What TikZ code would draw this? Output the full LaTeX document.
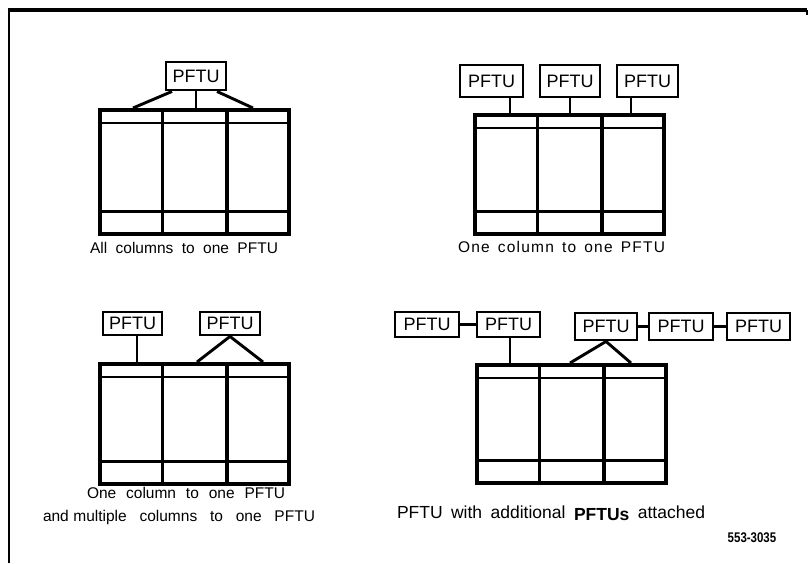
\documentclass[tikz,border=0pt]{standalone}
\usepackage{fontspec}
\usepackage{graphicx}
\setmainfont{Liberation Sans}
\usetikzlibrary{calc}
\tikzset{
  pftu/.style={draw, line width=2.9pt, inner sep=0pt, minimum height=25pt, minimum width=62pt, font=\fontsize{18}{18}\selectfont},
  cabbox/.style={draw, line width=3.6pt, minimum width=189pt, inner sep=0pt},
  cabline/.style={line width=2.8pt},
  divline/.style={line width=3.3pt},
  link/.style={line width=2.9pt},
  frame/.style={line width=2.8pt},
  caption/.style={inner sep=0pt, font=\fontsize{15.5}{15.5}\selectfont},
}
\newcommand\cabinet[4]{%
  \node[cabbox, minimum height=#4pt, anchor=north west] (#1) at (#2,#3) {};
  \draw[cabline] ([yshift=-15pt]#1.north west) -- ([yshift=-15pt]#1.north east);
  \draw[cabline] ([yshift=24pt]#1.south west) -- ([yshift=24pt]#1.south east);
  \draw[divline] ($(#1.north west)!0.335!(#1.north east)$) -- ($(#1.south west)!0.335!(#1.south east)$);
  \draw[divline] ($(#1.north west)!0.67!(#1.north east)$) -- ($(#1.south west)!0.67!(#1.south east)$);
}
\begin{document}
\begin{tikzpicture}[x=1pt,y=-1pt]
\useasboundingbox (0,0) rectangle (809,563);
% frame
\draw[frame] (9,563) -- (9,10);
\draw[line width=4pt] (7.6,10) -- (807,10);
\draw[line width=1.4pt] (807,10) -- (807,15);

% ---------- panel 1 ----------
\node[pftu, minimum width=60pt, minimum height=28pt] (p1) at (196,76) {PFTU};
\cabinet{c1}{98}{108}{124}
\coordinate (c1l) at (133,108);
\coordinate (c1m) at (196,108);
\coordinate (c1r) at (253,108);
\draw[link] ([xshift=-24pt]p1.south) -- (c1l);
\draw[link] (p1.south) -- (c1m);
\draw[link] ([xshift=21pt]p1.south) -- (c1r);
\node[caption] (t1) at (184,248) {\makebox[188pt][s]{All columns to one PFTU}};

% ---------- panel 2 ----------
\node[pftu, minimum width=63pt, minimum height=32pt] (p2a) at (491.5,81) {PFTU};
\node[pftu, minimum width=60pt, minimum height=32pt] (p2b) at (570,81) {PFTU};
\node[pftu, minimum width=61pt, minimum height=32pt] (p2c) at (647.5,81) {PFTU};
\cabinet{c2}{473}{113}{119}
\coordinate (c2a) at (510,113);
\coordinate (c2b) at (570,113);
\coordinate (c2c) at (631,113);
\draw[link] (p2a.south -| c2a) -- (c2a);
\draw[link] (p2b.south) -- (c2b);
\draw[link] (p2c.south -| c2c) -- (c2c);
\node[caption] (t2) at (561.5,247) {\makebox[207pt][s]{\addfontfeature{LetterSpace=8}One column to one PFTU}};

% ---------- panel 3 ----------
\node[pftu, minimum width=59pt, minimum height=23pt] (p3a) at (132.5,323.5) {PFTU};
\node[pftu, minimum width=60pt, minimum height=23pt] (p3b) at (230,323.5) {PFTU};
\cabinet{c3}{98}{362}{120}
\coordinate (c3a) at (137,362);
\coordinate (c3l) at (197,362);
\coordinate (c3r) at (263,362);
\draw[link] (p3a.south -| c3a) -- (c3a);
\draw[link] (p3b.south) -- (c3l);
\draw[link] (p3b.south) -- (c3r);
\node[caption] (t3a) at (186,493) {\makebox[198pt][s]{One column to one PFTU}};
\node[caption] (t3b) at (179,517) {\makebox[272pt][s]{and\hspace{4.5pt}multiple columns to one PFTU}};

% ---------- panel 4 ----------
\node[pftu, minimum width=64pt, minimum height=25pt] (p4a) at (427,324.5) {PFTU};
\node[pftu, minimum width=63pt, minimum height=25pt] (p4b) at (508.5,324.5) {PFTU};
\node[pftu, minimum width=62pt, minimum height=27pt] (p4c) at (606,326.5) {PFTU};
\node[pftu, minimum width=64pt, minimum height=27pt] (p4d) at (681,326.5) {PFTU};
\node[pftu, minimum width=63pt, minimum height=27pt] (p4e) at (758.5,326.5) {PFTU};
\cabinet{c4}{475}{363}{118}
\coordinate (c4a) at (510,363);
\coordinate (c4l) at (570,363);
\coordinate (c4r) at (631,363);
\draw[link] (p4a.east) -- (p4b.west);
\draw[link] (p4c.east) -- (p4d.west);
\draw[link] (p4d.east) -- (p4e.west);
\draw[link] (p4b.south -| c4a) -- (c4a);
\draw[link] (p4c.south) -- (c4l);
\draw[link] (p4c.south) -- (c4r);
\node[caption, font=\fontsize{17.5}{17.5}\selectfont] (t4) at (551,513) {\makebox[308pt][s]{PFTU with additional \raisebox{-1.5pt}{\bfseries PFTUs} attached}};
\node[inner sep=0pt, font=\fontsize{14}{14}\selectfont\bfseries] (num) at (752,538) {\scalebox{0.82}[1]{553-3035}};
\end{tikzpicture}
\end{document}
